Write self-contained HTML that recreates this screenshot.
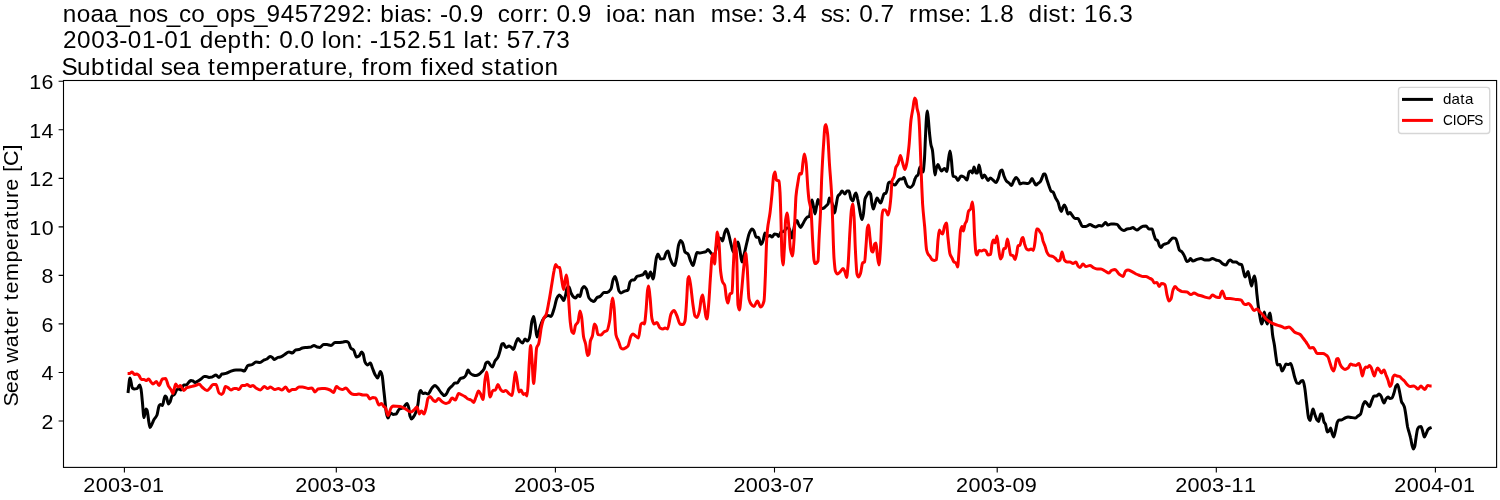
<!DOCTYPE html>
<html><head><meta charset="utf-8"><title>Subtidal sea temperature</title>
<style>
html,body{margin:0;padding:0;background:#fff;}
body{width:1500px;height:500px;overflow:hidden;font-family:"Liberation Sans",sans-serif;}
svg text{font-family:"Liberation Sans",sans-serif;white-space:pre;}
.tx{filter:grayscale(1);}
</style></head><body>
<svg width="1500" height="500" viewBox="0 0 1500 500" style="display:block;will-change:transform">
<rect x="0" y="0" width="1500" height="500" fill="#fff"/>
<g fill="none" stroke-width="3.0" stroke-linejoin="round" stroke-linecap="butt">
<path stroke="#000" d="M128.0 393.0C128.7 388.0 129.3 378.0 130.0 378.0C130.8 378.0 131.6 387.3 132.4 388.0C133.1 388.6 133.7 389.0 134.4 389.0C135.3 389.0 136.1 388.8 137.0 388.6C137.9 388.4 138.7 385.0 139.6 385.0C140.1 385.0 140.5 387.0 141.0 389.0C141.5 391.0 141.9 397.6 142.4 402.0C142.9 407.1 143.5 417.6 144.0 417.6C144.7 417.6 145.3 409.0 146.0 409.0C146.3 409.0 146.7 409.5 147.0 410.0C147.7 411.1 148.3 419.5 149.0 423.0C149.3 424.8 149.7 427.6 150.0 427.6C150.7 427.6 151.3 425.3 152.0 424.0C152.7 422.7 153.3 420.8 154.0 419.6C155.0 417.8 156.0 417.4 157.0 415.0C157.7 413.4 158.3 407.2 159.0 406.0C159.5 405.2 159.9 404.4 160.4 404.4C161.1 404.4 161.7 405.6 162.4 405.6C163.3 405.6 164.1 396.0 165.0 396.0C165.5 396.0 165.9 396.5 166.4 397.0C167.1 397.8 167.7 404.0 168.4 404.0C168.9 404.0 169.5 402.9 170.0 402.0C170.7 400.8 171.3 396.7 172.0 396.0C172.8 395.1 173.6 395.2 174.4 394.4C175.3 393.6 176.1 390.0 177.0 389.6C177.7 389.3 178.3 389.0 179.0 389.0C179.7 389.0 180.3 390.0 181.0 390.0C181.9 390.0 182.7 385.0 183.6 385.0C184.4 385.0 185.2 385.0 186.0 385.0C187.0 385.0 188.0 382.9 189.0 382.0C189.7 381.4 190.3 380.4 191.0 380.4C191.7 380.4 192.3 380.7 193.0 381.0C193.7 381.3 194.3 382.6 195.0 382.6C196.0 382.6 197.0 381.6 198.0 381.0C199.0 380.4 200.0 379.7 201.0 379.0C202.0 378.3 203.0 376.8 204.0 376.6C204.7 376.5 205.3 376.4 206.0 376.4C207.0 376.4 208.0 377.4 209.0 377.4C210.0 377.4 211.0 377.2 212.0 377.0C213.3 376.7 214.7 375.0 216.0 375.0C217.0 375.0 218.0 377.4 219.0 377.4C220.0 377.4 221.0 374.3 222.0 374.0C223.3 373.6 224.7 373.7 226.0 373.4C227.3 373.1 228.7 372.1 230.0 371.6C232.0 370.9 234.0 370.0 236.0 370.0C237.7 370.0 239.3 370.0 241.0 370.0C242.1 370.0 243.3 371.0 244.4 371.0C245.6 371.0 246.8 365.8 248.0 365.4C249.3 364.9 250.7 365.0 252.0 364.6C253.3 364.2 254.7 362.0 256.0 362.0C257.3 362.0 258.7 362.4 260.0 362.4C261.3 362.4 262.7 360.6 264.0 360.0C265.0 359.6 266.0 359.5 267.0 359.0C268.0 358.5 269.0 356.6 270.0 356.6C270.8 356.6 271.6 357.1 272.4 357.6C273.1 358.0 273.7 359.6 274.4 359.6C275.6 359.6 276.8 357.7 278.0 357.4C278.8 357.2 279.6 357.2 280.4 357.0C281.6 356.7 282.8 355.7 284.0 355.0C285.7 354.0 287.3 352.0 289.0 352.0C290.1 352.0 291.3 353.0 292.4 353.0C293.5 353.0 294.5 350.2 295.6 350.0C296.7 349.8 297.9 349.8 299.0 349.6C300.1 349.4 301.3 348.2 302.4 348.0C303.9 347.7 305.5 347.6 307.0 347.4C308.3 347.2 309.7 347.2 311.0 347.0C312.0 346.8 313.0 345.6 314.0 345.6C315.0 345.6 316.0 346.8 317.0 347.0C318.0 347.2 319.0 347.4 320.0 347.4C321.2 347.4 322.4 344.4 323.6 344.4C324.7 344.4 325.9 344.5 327.0 344.6C328.3 344.7 329.7 345.4 331.0 345.4C332.3 345.4 333.7 342.6 335.0 342.6C336.3 342.6 337.7 342.6 339.0 342.6C340.3 342.6 341.7 342.2 343.0 342.0C344.0 341.8 345.0 341.4 346.0 341.4C346.8 341.4 347.6 341.8 348.4 342.4C349.3 343.0 350.1 347.6 351.0 348.4C351.9 349.2 352.7 349.2 353.6 350.0C354.5 350.9 355.5 357.0 356.4 357.0C357.3 357.0 358.1 356.5 359.0 356.0C359.9 355.5 360.7 352.0 361.6 352.0C362.1 352.0 362.5 352.8 363.0 353.6C363.7 354.8 364.3 360.8 365.0 362.0C365.9 363.6 366.7 365.0 367.6 365.0C368.5 365.0 369.5 363.0 370.4 363.0C371.1 363.0 371.7 366.3 372.4 368.0C373.3 370.2 374.1 372.9 375.0 374.4C375.9 375.9 376.7 378.0 377.6 378.0C378.5 378.0 379.5 371.6 380.4 371.6C380.9 371.6 381.5 373.2 382.0 375.0C382.7 377.2 383.3 386.3 384.0 392.0C384.9 399.4 385.7 410.5 386.6 414.0C387.1 415.9 387.5 418.0 388.0 418.0C388.9 418.0 389.7 413.0 390.6 413.0C391.4 413.0 392.2 414.4 393.0 414.4C394.0 414.4 395.0 414.2 396.0 414.0C397.1 413.7 398.3 409.5 399.4 409.0C400.6 408.4 401.8 408.6 403.0 408.0C403.7 407.7 404.3 406.4 405.0 405.6C405.7 404.8 406.3 403.4 407.0 403.4C407.5 403.4 408.1 405.2 408.6 407.0C409.1 408.6 409.5 414.5 410.0 416.0C410.5 417.5 410.9 419.0 411.4 419.0C412.1 419.0 412.7 417.9 413.4 417.0C414.3 415.9 415.1 414.3 416.0 412.0C416.7 410.2 417.3 407.6 418.0 404.0C418.5 401.5 418.9 394.5 419.4 393.0C419.8 391.7 420.2 390.6 420.6 390.6C421.4 390.6 422.2 393.6 423.0 393.6C423.7 393.6 424.3 393.0 425.0 393.0C426.0 393.0 427.0 394.0 428.0 394.0C429.3 394.0 430.7 389.4 432.0 388.0C433.0 386.9 434.0 385.4 435.0 385.4C435.8 385.4 436.6 386.7 437.4 387.6C438.6 388.9 439.8 391.1 441.0 392.4C442.1 393.6 443.3 395.6 444.4 395.6C444.9 395.6 445.5 394.9 446.0 394.4C447.0 393.4 448.0 390.3 449.0 389.0C450.0 387.7 451.0 387.0 452.0 386.0C453.0 385.0 454.0 383.0 455.0 383.0C455.7 383.0 456.3 383.0 457.0 383.0C458.2 383.0 459.4 379.0 460.6 378.4C461.7 377.9 462.9 378.0 464.0 377.4C464.7 377.1 465.3 376.1 466.0 375.0C466.7 373.9 467.3 370.0 468.0 370.0C468.7 370.0 469.3 372.4 470.0 373.0C471.0 373.9 472.0 374.7 473.0 375.0C474.0 375.3 475.0 375.6 476.0 375.6C477.0 375.6 478.0 375.0 479.0 374.4C480.0 373.8 481.0 372.7 482.0 371.6C482.7 370.9 483.3 370.2 484.0 369.0C484.7 367.8 485.3 363.6 486.0 363.0C486.7 362.4 487.3 362.0 488.0 362.0C488.8 362.0 489.6 364.1 490.4 365.0C491.1 365.7 491.7 367.0 492.4 367.0C493.3 367.0 494.1 362.5 495.0 361.0C496.0 359.3 497.0 358.9 498.0 357.0C498.7 355.7 499.3 353.2 500.0 351.0C500.7 348.8 501.3 344.3 502.0 344.0C502.5 343.8 502.9 343.6 503.4 343.6C504.3 343.6 505.1 347.6 506.0 347.6C507.0 347.6 508.0 346.0 509.0 346.0C509.7 346.0 510.3 346.6 511.0 347.0C511.8 347.5 512.6 349.4 513.4 349.4C514.3 349.4 515.1 344.4 516.0 342.4C516.7 340.9 517.3 338.4 518.0 338.4C518.7 338.4 519.3 340.3 520.0 341.0C520.9 341.8 521.7 343.0 522.6 343.0C523.4 343.0 524.2 339.0 525.0 339.0C525.8 339.0 526.6 341.0 527.4 341.0C528.1 341.0 528.7 339.7 529.4 338.0C529.6 337.5 529.8 336.1 530.0 335.0C530.7 331.2 531.3 323.7 532.0 321.0C532.5 318.9 533.1 316.4 533.6 316.4C534.1 316.4 534.5 320.4 535.0 323.0C535.7 326.7 536.3 337.0 537.0 337.0C537.7 337.0 538.3 333.2 539.0 331.0C539.7 328.8 540.3 325.7 541.0 324.0C542.0 321.4 543.0 319.0 544.0 318.0C545.3 316.7 546.7 315.4 548.0 315.4C549.0 315.4 550.0 316.4 551.0 316.4C552.0 316.4 553.0 311.9 554.0 309.0C555.0 306.1 556.0 299.8 557.0 298.0C557.8 296.5 558.6 295.0 559.4 295.0C560.3 295.0 561.1 296.8 562.0 298.0C562.5 298.7 563.1 300.6 563.6 300.6C564.3 300.6 564.9 297.4 565.6 295.0C566.1 293.3 566.5 288.4 567.0 288.0C567.7 287.4 568.3 287.0 569.0 287.0C569.7 287.0 570.3 291.6 571.0 293.0C571.9 294.8 572.7 296.4 573.6 297.0C574.3 297.5 574.9 298.0 575.6 298.0C576.4 298.0 577.2 295.0 578.0 295.0C578.7 295.0 579.3 296.4 580.0 296.4C580.7 296.4 581.3 290.3 582.0 289.0C582.7 287.7 583.3 286.4 584.0 286.4C584.8 286.4 585.6 287.7 586.4 289.0C587.3 290.4 588.1 296.7 589.0 298.0C589.9 299.3 590.7 300.1 591.6 300.6C592.4 301.1 593.2 301.6 594.0 301.6C595.0 301.6 596.0 298.2 597.0 297.6C598.0 297.0 599.0 297.0 600.0 296.4C601.3 295.7 602.7 292.8 604.0 292.6C605.0 292.5 606.0 292.5 607.0 292.4C608.3 292.2 609.7 291.1 611.0 289.0C611.7 288.0 612.3 281.6 613.0 280.0C613.7 278.4 614.3 276.6 615.0 276.6C615.7 276.6 616.3 279.8 617.0 282.0C617.7 284.2 618.3 289.9 619.0 291.0C619.7 292.1 620.3 293.0 621.0 293.0C622.0 293.0 623.0 291.8 624.0 291.4C625.3 290.8 626.7 290.9 628.0 290.0C628.7 289.5 629.3 283.1 630.0 282.0C630.7 280.9 631.3 280.0 632.0 280.0C632.7 280.0 633.3 280.0 634.0 280.0C635.0 280.0 636.0 276.8 637.0 276.4C638.0 276.0 639.0 275.9 640.0 275.6C641.0 275.3 642.0 275.1 643.0 274.6C643.9 274.1 644.7 271.6 645.6 271.6C646.4 271.6 647.2 278.0 648.0 278.0C648.9 278.0 649.7 272.0 650.6 272.0C651.4 272.0 652.2 279.0 653.0 279.0C654.2 279.0 655.4 260.6 656.6 257.0C657.1 255.6 657.5 254.0 658.0 254.0C658.9 254.0 659.7 259.0 660.6 259.0C661.7 259.0 662.9 258.9 664.0 258.6C664.7 258.4 665.3 254.0 666.0 253.0C666.7 252.0 667.3 251.0 668.0 251.0C668.7 251.0 669.3 256.1 670.0 258.0C670.9 260.4 671.7 263.0 672.6 264.0C673.3 264.8 673.9 265.6 674.6 265.6C675.3 265.6 675.9 261.2 676.6 258.0C677.3 254.8 677.9 247.2 678.6 245.0C679.3 242.8 679.9 240.6 680.6 240.6C681.3 240.6 681.9 241.8 682.6 243.0C683.4 244.4 684.2 251.1 685.0 252.0C686.0 253.2 687.0 252.9 688.0 254.0C688.9 254.9 689.7 259.1 690.6 261.0C691.4 262.8 692.2 265.6 693.0 265.6C693.7 265.6 694.3 261.2 695.0 259.0C695.7 256.8 696.3 252.6 697.0 252.6C698.0 252.6 699.0 253.0 700.0 253.0C701.0 253.0 702.0 252.6 703.0 252.4C704.0 252.2 705.0 252.0 706.0 251.6C706.7 251.3 707.3 249.4 708.0 249.4C708.9 249.4 709.7 251.6 710.6 252.6C711.4 253.5 712.2 255.0 713.0 255.0C713.7 255.0 714.3 254.1 715.0 253.0C715.7 251.9 716.3 246.4 717.0 244.0C717.7 241.6 718.3 238.0 719.0 238.0C719.7 238.0 720.3 238.3 721.0 238.6C721.5 238.9 722.1 241.0 722.6 241.0C723.3 241.0 723.9 234.8 724.6 233.0C725.3 231.2 725.9 229.0 726.6 229.0C727.3 229.0 727.9 231.9 728.6 234.0C729.4 236.5 730.2 241.0 731.0 244.0C731.8 247.0 732.6 252.0 733.4 252.0C734.3 252.0 735.1 248.9 736.0 247.0C736.7 245.5 737.3 242.0 738.0 242.0C738.7 242.0 739.3 247.7 740.0 251.0C740.7 254.3 741.3 262.0 742.0 262.0C742.7 262.0 743.3 257.6 744.0 255.0C745.0 251.2 746.0 246.0 747.0 242.0C747.8 238.8 748.6 234.8 749.4 233.0C750.3 231.1 751.1 229.0 752.0 229.0C752.7 229.0 753.3 230.0 754.0 231.0C754.7 232.0 755.3 236.8 756.0 237.0C756.9 237.3 757.7 237.1 758.6 237.4C759.4 237.6 760.2 244.4 761.0 244.4C761.7 244.4 762.3 242.6 763.0 241.0C763.7 239.4 764.3 233.0 765.0 233.0C765.7 233.0 766.3 236.4 767.0 236.4C768.0 236.4 769.0 235.6 770.0 235.6C770.7 235.6 771.3 237.0 772.0 237.0C772.9 237.0 773.7 234.0 774.6 234.0C775.4 234.0 776.2 234.2 777.0 234.4C777.5 234.6 778.1 236.4 778.6 236.4C779.4 236.4 780.2 232.3 781.0 232.0C782.0 231.6 783.0 231.8 784.0 231.4C784.9 231.1 785.7 228.0 786.6 228.0C787.4 228.0 788.2 228.0 789.0 228.0C789.5 228.0 790.1 231.2 790.6 233.0C791.1 234.6 791.5 238.0 792.0 238.0C792.5 238.0 793.1 232.5 793.6 230.0C794.2 227.2 794.8 223.0 795.4 222.0C795.9 221.1 796.5 220.4 797.0 220.4C797.5 220.4 798.1 223.4 798.6 224.4C799.3 225.7 799.9 227.4 800.6 227.4C801.3 227.4 801.9 225.5 802.6 224.4C803.4 223.1 804.2 221.2 805.0 220.0C805.8 218.8 806.6 217.4 807.4 217.0C808.1 216.7 808.7 216.8 809.4 216.4C809.9 216.1 810.5 208.1 811.0 205.0C811.3 203.1 811.7 200.0 812.0 200.0C812.5 200.0 812.9 203.8 813.4 206.0C813.9 208.5 814.5 214.0 815.0 214.0C815.5 214.0 816.1 208.5 816.6 206.0C817.1 203.8 817.5 199.6 818.0 199.6C818.5 199.6 818.9 200.9 819.4 202.0C819.9 203.2 820.5 207.8 821.0 208.0C821.7 208.3 822.3 208.4 823.0 208.4C824.0 208.4 825.0 206.9 826.0 206.0C826.7 205.4 827.3 205.1 828.0 204.0C828.5 203.2 828.9 198.0 829.4 198.0C830.6 198.0 831.8 202.3 833.0 206.0C833.5 207.6 834.1 213.0 834.6 213.0C835.1 213.0 835.5 208.3 836.0 206.0C836.7 202.7 837.3 197.1 838.0 196.0C838.7 194.9 839.3 194.8 840.0 194.0C840.7 193.2 841.3 191.0 842.0 191.0C843.0 191.0 844.0 194.0 845.0 194.0C845.7 194.0 846.3 191.0 847.0 191.0C847.7 191.0 848.3 191.0 849.0 191.0C849.7 191.0 850.3 197.9 851.0 199.0C851.7 200.1 852.3 201.0 853.0 201.0C853.5 201.0 854.1 196.1 854.6 195.0C855.1 194.0 855.5 193.0 856.0 193.0C856.5 193.0 857.1 196.7 857.6 199.0C858.1 201.0 858.5 203.5 859.0 206.0C859.5 208.8 860.1 212.8 860.6 215.0C861.1 216.9 861.5 219.6 862.0 219.6C862.5 219.6 862.9 216.6 863.4 214.0C863.9 211.0 864.5 200.8 865.0 199.0C865.7 196.7 866.3 196.1 867.0 195.0C867.7 193.9 868.3 192.0 869.0 192.0C869.5 192.0 870.1 192.8 870.6 194.0C871.1 195.0 871.5 201.8 872.0 204.0C872.5 206.2 872.9 209.0 873.4 209.0C873.9 209.0 874.5 205.6 875.0 204.0C875.7 202.0 876.3 198.0 877.0 198.0C877.7 198.0 878.3 200.1 879.0 201.0C879.5 201.7 880.1 203.0 880.6 203.0C881.3 203.0 881.9 199.8 882.6 198.0C883.1 196.8 883.5 194.4 884.0 194.0C884.7 193.4 885.3 193.6 886.0 193.0C886.3 192.7 886.7 191.2 887.0 190.0C887.5 188.3 887.9 183.5 888.4 183.0C888.9 182.4 889.5 182.0 890.0 182.0C890.8 182.0 891.6 183.6 892.4 184.0C893.3 184.5 894.1 185.0 895.0 185.0C896.0 185.0 897.0 182.1 898.0 181.0C898.7 180.2 899.3 179.0 900.0 179.0C900.7 179.0 901.3 179.0 902.0 179.0C902.7 179.0 903.3 177.4 904.0 177.4C904.7 177.4 905.3 181.5 906.0 183.0C906.7 184.5 907.3 186.2 908.0 186.6C908.8 187.1 909.6 187.4 910.4 187.4C911.3 187.4 912.1 186.3 913.0 185.0C913.7 184.0 914.3 180.5 915.0 179.0C915.5 177.8 916.1 176.5 916.6 176.0C917.1 175.5 917.5 175.5 918.0 175.0C918.7 174.2 919.3 167.0 920.0 167.0C920.5 167.0 921.1 169.1 921.6 170.0C922.1 170.8 922.5 172.0 923.0 172.0C923.5 172.0 923.9 165.8 924.4 160.0C924.8 155.0 925.2 141.8 925.6 134.0C925.9 127.5 926.3 119.0 926.6 116.0C926.9 113.6 927.1 111.0 927.4 111.0C927.7 111.0 928.1 116.6 928.4 120.0C928.8 124.0 929.2 130.2 929.6 134.0C930.1 138.4 930.5 142.7 931.0 145.0C931.5 147.3 931.9 147.5 932.4 150.0C932.8 152.1 933.2 158.1 933.6 162.0C934.1 166.5 934.5 175.0 935.0 175.0C935.5 175.0 935.9 169.5 936.4 168.0C936.9 166.3 937.5 164.4 938.0 164.4C938.5 164.4 939.1 167.0 939.6 168.0C940.3 169.2 940.9 171.0 941.6 171.0C942.5 171.0 943.5 168.4 944.4 168.4C945.3 168.4 946.1 171.6 947.0 171.6C947.5 171.6 947.9 163.1 948.4 160.0C948.9 156.4 949.5 151.0 950.0 151.0C950.5 151.0 950.9 156.4 951.4 160.0C951.9 164.2 952.5 175.6 953.0 176.0C953.9 176.7 954.7 176.5 955.6 177.0C956.4 177.5 957.2 180.4 958.0 180.4C959.0 180.4 960.0 176.0 961.0 176.0C962.0 176.0 963.0 176.5 964.0 177.0C965.0 177.5 966.0 180.0 967.0 180.0C967.7 180.0 968.3 172.6 969.0 172.0C969.7 171.4 970.3 171.0 971.0 171.0C971.5 171.0 971.9 173.0 972.4 173.0C972.9 173.0 973.5 167.0 974.0 167.0C974.7 167.0 975.3 173.0 976.0 173.0C976.5 173.0 976.9 173.0 977.4 173.0C977.9 173.0 978.5 165.0 979.0 165.0C979.7 165.0 980.3 171.7 981.0 174.0C981.5 175.6 981.9 178.0 982.4 178.0C983.1 178.0 983.7 175.0 984.4 175.0C985.1 175.0 985.7 177.0 986.4 178.0C986.9 178.8 987.5 180.4 988.0 180.4C988.8 180.4 989.6 178.0 990.4 178.0C991.3 178.0 992.1 179.3 993.0 180.0C994.0 180.8 995.0 182.4 996.0 182.4C996.8 182.4 997.6 179.9 998.4 178.0C999.1 176.4 999.7 171.7 1000.4 171.0C1000.9 170.4 1001.5 170.0 1002.0 170.0C1002.7 170.0 1003.3 174.4 1004.0 176.0C1004.8 178.0 1005.6 180.1 1006.4 181.0C1007.3 182.0 1008.1 182.2 1009.0 183.0C1009.9 183.8 1010.7 185.6 1011.6 185.6C1012.3 185.6 1012.9 182.2 1013.6 181.0C1014.4 179.6 1015.2 177.6 1016.0 177.6C1016.8 177.6 1017.6 178.8 1018.4 180.0C1018.9 180.8 1019.5 184.0 1020.0 184.0C1021.0 184.0 1022.0 183.0 1023.0 183.0C1024.7 183.0 1026.3 183.4 1028.0 183.4C1028.7 183.4 1029.3 182.7 1030.0 182.0C1030.7 181.3 1031.3 178.6 1032.0 178.6C1032.7 178.6 1033.3 180.9 1034.0 182.0C1034.7 183.1 1035.3 185.0 1036.0 185.0C1036.7 185.0 1037.3 183.9 1038.0 183.4C1038.7 182.9 1039.3 182.7 1040.0 182.0C1040.7 181.3 1041.3 179.5 1042.0 178.0C1042.5 176.8 1043.1 174.0 1043.6 174.0C1044.1 174.0 1044.5 174.0 1045.0 174.0C1045.7 174.0 1046.3 178.0 1047.0 180.0C1047.7 182.0 1048.3 184.2 1049.0 186.0C1049.7 187.8 1050.3 190.4 1051.0 191.0C1051.7 191.6 1052.3 191.5 1053.0 192.0C1053.9 192.7 1054.7 196.3 1055.6 198.0C1056.4 199.5 1057.2 200.2 1058.0 202.0C1058.7 203.5 1059.3 207.5 1060.0 209.0C1060.5 210.1 1060.9 211.4 1061.4 211.4C1061.9 211.4 1062.5 208.0 1063.0 207.0C1063.5 206.1 1063.9 205.0 1064.4 205.0C1064.9 205.0 1065.5 206.8 1066.0 208.0C1066.7 209.5 1067.3 214.0 1068.0 214.0C1068.7 214.0 1069.3 212.6 1070.0 212.6C1070.7 212.6 1071.3 214.2 1072.0 215.0C1073.0 216.2 1074.0 218.6 1075.0 218.6C1076.0 218.6 1077.0 218.6 1078.0 218.6C1078.7 218.6 1079.3 220.8 1080.0 222.0C1080.8 223.4 1081.6 226.4 1082.4 226.4C1083.6 226.4 1084.8 226.4 1086.0 226.4C1087.3 226.4 1088.7 224.6 1090.0 224.6C1091.0 224.6 1092.0 225.6 1093.0 226.0C1093.9 226.4 1094.7 227.0 1095.6 227.0C1096.7 227.0 1097.9 225.4 1099.0 225.4C1100.0 225.4 1101.0 226.0 1102.0 226.0C1102.7 226.0 1103.3 224.6 1104.0 224.0C1104.5 223.5 1105.1 222.6 1105.6 222.6C1106.4 222.6 1107.2 225.0 1108.0 225.0C1109.0 225.0 1110.0 224.0 1111.0 224.0C1112.0 224.0 1113.0 224.0 1114.0 224.0C1115.0 224.0 1116.0 224.2 1117.0 224.4C1118.0 224.6 1119.0 227.0 1120.0 228.0C1120.8 228.8 1121.6 229.6 1122.4 230.0C1122.9 230.3 1123.5 230.6 1124.0 230.6C1125.0 230.6 1126.0 229.2 1127.0 229.0C1128.0 228.8 1129.0 228.8 1130.0 228.6C1131.0 228.4 1132.0 227.6 1133.0 227.6C1133.7 227.6 1134.3 228.6 1135.0 229.0C1135.7 229.4 1136.3 230.0 1137.0 230.0C1138.0 230.0 1139.0 228.6 1140.0 228.0C1141.0 227.4 1142.0 226.3 1143.0 226.2C1144.0 226.1 1145.0 226.0 1146.0 226.0C1147.0 226.0 1148.0 229.0 1149.0 229.0C1150.0 229.0 1151.0 229.0 1152.0 229.0C1152.7 229.0 1153.3 233.1 1154.0 235.0C1154.5 236.5 1155.1 238.9 1155.6 239.4C1156.3 240.1 1156.9 239.9 1157.6 240.6C1158.3 241.3 1158.9 245.1 1159.6 246.0C1160.1 246.7 1160.5 247.4 1161.0 247.4C1161.7 247.4 1162.3 245.5 1163.0 245.0C1163.7 244.5 1164.3 244.3 1165.0 244.0C1166.0 243.6 1167.0 243.5 1168.0 243.0C1168.7 242.6 1169.3 241.3 1170.0 240.6C1171.0 239.6 1172.0 238.0 1173.0 238.0C1173.9 238.0 1174.7 238.1 1175.6 238.4C1176.3 238.6 1176.9 242.0 1177.6 244.0C1178.2 245.8 1178.8 249.2 1179.4 250.0C1180.3 251.1 1181.1 251.1 1182.0 252.0C1182.8 252.8 1183.6 254.5 1184.4 256.0C1185.3 257.6 1186.1 261.4 1187.0 261.4C1187.7 261.4 1188.3 261.0 1189.0 260.6C1189.5 260.3 1189.9 258.6 1190.4 258.6C1191.3 258.6 1192.1 261.0 1193.0 261.0C1194.3 261.0 1195.7 259.8 1197.0 259.4C1198.3 259.0 1199.7 258.4 1201.0 258.4C1202.3 258.4 1203.7 260.0 1205.0 260.0C1206.3 260.0 1207.7 260.0 1209.0 260.0C1210.1 260.0 1211.3 258.4 1212.4 258.4C1213.6 258.4 1214.8 259.6 1216.0 260.0C1217.2 260.4 1218.4 260.5 1219.6 261.0C1220.5 261.4 1221.5 263.1 1222.4 263.6C1223.6 264.3 1224.8 265.0 1226.0 265.0C1226.9 265.0 1227.7 261.7 1228.6 261.0C1229.2 260.5 1229.8 260.0 1230.4 260.0C1231.3 260.0 1232.1 262.0 1233.0 262.0C1234.0 262.0 1235.0 262.0 1236.0 262.0C1237.0 262.0 1238.0 263.7 1239.0 264.0C1239.9 264.3 1240.7 264.2 1241.6 264.6C1242.2 264.9 1242.8 268.8 1243.4 271.0C1243.9 272.9 1244.5 277.0 1245.0 277.0C1245.5 277.0 1245.9 275.8 1246.4 275.0C1246.9 274.1 1247.5 271.6 1248.0 271.6C1248.5 271.6 1249.1 275.9 1249.6 278.0C1250.3 280.7 1250.9 286.0 1251.6 286.0C1252.1 286.0 1252.5 281.6 1253.0 280.0C1253.5 278.4 1253.9 276.0 1254.4 276.0C1254.8 276.0 1255.2 278.7 1255.6 281.0C1256.1 283.7 1256.5 290.7 1257.0 295.0C1257.5 299.3 1257.9 303.6 1258.4 307.0C1258.9 310.9 1259.5 314.3 1260.0 317.0C1260.5 319.7 1261.1 324.0 1261.6 324.0C1262.1 324.0 1262.5 321.8 1263.0 320.0C1263.5 318.2 1263.9 312.0 1264.4 312.0C1264.9 312.0 1265.5 319.4 1266.0 321.0C1266.5 322.4 1266.9 324.0 1267.4 324.0C1267.9 324.0 1268.5 316.5 1269.0 315.0C1269.3 314.1 1269.7 313.0 1270.0 313.0C1270.5 313.0 1270.9 319.1 1271.4 323.0C1271.8 326.3 1272.2 332.1 1272.6 335.0C1273.2 339.4 1273.8 341.2 1274.4 345.0C1274.9 348.4 1275.5 353.6 1276.0 357.0C1276.5 360.0 1276.9 365.0 1277.4 365.0C1278.3 365.0 1279.1 364.4 1280.0 364.4C1280.7 364.4 1281.3 371.0 1282.0 371.0C1282.7 371.0 1283.3 369.1 1284.0 368.0C1284.7 366.9 1285.3 364.0 1286.0 364.0C1286.9 364.0 1287.7 364.6 1288.6 364.6C1289.3 364.6 1289.9 363.4 1290.6 363.4C1291.3 363.4 1291.9 366.8 1292.6 369.0C1293.3 371.2 1293.9 374.9 1294.6 377.0C1295.4 379.5 1296.2 382.7 1297.0 383.0C1297.7 383.2 1298.3 383.4 1299.0 383.4C1299.8 383.4 1300.6 381.3 1301.4 381.0C1301.9 380.8 1302.5 380.6 1303.0 380.6C1303.5 380.6 1304.1 384.2 1304.6 387.0C1305.3 390.5 1305.9 397.8 1306.6 403.0C1307.3 408.2 1307.9 416.1 1308.6 418.0C1309.1 419.3 1309.5 420.6 1310.0 420.6C1310.5 420.6 1311.1 416.0 1311.6 414.0C1312.1 412.2 1312.5 409.0 1313.0 409.0C1313.7 409.0 1314.3 413.2 1315.0 415.0C1315.7 416.8 1316.3 419.2 1317.0 420.0C1317.5 420.7 1318.1 421.4 1318.6 421.4C1319.3 421.4 1319.9 414.0 1320.6 414.0C1321.1 414.0 1321.5 414.0 1322.0 414.0C1322.7 414.0 1323.3 420.6 1324.0 422.0C1324.5 423.0 1324.9 423.0 1325.4 424.0C1326.1 425.4 1326.7 432.0 1327.4 432.0C1327.9 432.0 1328.5 431.5 1329.0 431.0C1329.5 430.5 1330.1 428.0 1330.6 428.0C1331.1 428.0 1331.5 431.6 1332.0 433.0C1332.5 434.6 1333.1 437.0 1333.6 437.0C1334.2 437.0 1334.8 433.3 1335.4 431.0C1336.1 428.5 1336.7 423.3 1337.4 422.0C1337.9 421.0 1338.5 420.0 1339.0 420.0C1339.8 420.0 1340.6 420.0 1341.4 420.0C1342.6 420.0 1343.8 418.5 1345.0 418.0C1346.0 417.6 1347.0 417.0 1348.0 417.0C1349.0 417.0 1350.0 417.3 1351.0 417.4C1352.3 417.6 1353.7 418.0 1355.0 418.0C1356.0 418.0 1357.0 416.7 1358.0 416.0C1358.9 415.4 1359.7 415.1 1360.6 414.0C1361.4 413.0 1362.2 406.9 1363.0 405.0C1363.7 403.5 1364.3 401.6 1365.0 401.6C1365.7 401.6 1366.3 402.7 1367.0 403.4C1367.8 404.3 1368.6 406.6 1369.4 406.6C1370.3 406.6 1371.1 401.9 1372.0 400.0C1372.7 398.5 1373.3 396.0 1374.0 396.0C1374.9 396.0 1375.7 396.0 1376.6 396.0C1377.4 396.0 1378.2 394.0 1379.0 394.0C1379.7 394.0 1380.3 395.1 1381.0 396.0C1382.0 397.4 1383.0 403.0 1384.0 403.0C1384.7 403.0 1385.3 399.9 1386.0 399.0C1386.7 398.1 1387.3 397.0 1388.0 397.0C1388.7 397.0 1389.3 398.6 1390.0 398.6C1390.7 398.6 1391.3 398.4 1392.0 398.0C1392.7 397.6 1393.3 394.9 1394.0 393.0C1394.7 391.1 1395.3 386.9 1396.0 386.0C1396.5 385.3 1397.1 384.6 1397.6 384.6C1398.4 384.6 1399.2 390.5 1400.0 394.0C1400.5 396.4 1401.1 400.8 1401.6 402.0C1402.1 403.0 1402.5 403.2 1403.0 404.0C1403.5 404.8 1403.9 405.6 1404.4 407.0C1404.9 408.6 1405.5 412.7 1406.0 416.0C1406.5 419.3 1407.1 424.5 1407.6 427.0C1408.1 429.2 1408.5 430.3 1409.0 432.0C1409.5 434.0 1410.1 435.7 1410.6 438.0C1411.1 440.0 1411.5 443.3 1412.0 445.0C1412.5 446.7 1412.9 449.0 1413.4 449.0C1413.8 449.0 1414.2 448.0 1414.6 447.0C1415.1 445.8 1415.5 440.8 1416.0 438.0C1416.5 434.8 1417.1 430.2 1417.6 429.0C1418.1 428.0 1418.5 427.2 1419.0 427.0C1419.7 426.8 1420.3 426.6 1421.0 426.6C1421.5 426.6 1422.1 429.4 1422.6 431.0C1423.2 432.8 1423.8 437.0 1424.4 437.0C1424.9 437.0 1425.5 435.1 1426.0 434.0C1426.7 432.7 1427.3 430.4 1428.0 429.6C1428.7 428.8 1429.3 428.3 1430.0 428.0C1430.5 427.7 1431.1 427.6 1431.6 427.4"/>
<path stroke="#f00" d="M127.6 373.6C128.3 373.6 128.9 373.6 129.6 373.6C130.4 373.6 131.2 372.0 132.0 372.0C132.8 372.0 133.6 374.4 134.4 374.4C135.3 374.4 136.1 374.0 137.0 374.0C137.7 374.0 138.3 374.9 139.0 375.6C139.8 376.5 140.6 379.6 141.4 379.6C142.3 379.6 143.1 379.4 144.0 379.4C144.7 379.4 145.3 380.6 146.0 380.6C146.9 380.6 147.7 379.0 148.6 379.0C149.4 379.0 150.2 381.1 151.0 382.0C151.7 382.7 152.3 384.0 153.0 384.0C154.1 384.0 155.3 381.4 156.4 381.4C157.3 381.4 158.1 385.6 159.0 385.6C160.1 385.6 161.3 379.4 162.4 379.0C163.5 378.6 164.5 378.4 165.6 378.4C166.5 378.4 167.5 384.3 168.4 386.0C169.3 387.6 170.1 388.2 171.0 389.6C171.7 390.7 172.3 393.6 173.0 393.6C173.9 393.6 174.7 384.0 175.6 384.0C176.4 384.0 177.2 387.0 178.0 387.0C178.8 387.0 179.6 385.6 180.4 385.6C181.5 385.6 182.5 390.4 183.6 390.4C184.7 390.4 185.9 388.0 187.0 387.6C188.7 387.0 190.3 386.8 192.0 386.4C193.3 386.1 194.7 385.8 196.0 385.4C197.0 385.1 198.0 384.0 199.0 384.0C200.0 384.0 201.0 386.2 202.0 387.0C203.7 388.4 205.3 390.4 207.0 390.4C208.0 390.4 209.0 389.0 210.0 388.0C211.0 387.0 212.0 384.4 213.0 384.4C214.0 384.4 215.0 384.4 216.0 384.4C217.0 384.4 218.0 392.1 219.0 393.0C219.9 393.8 220.7 394.4 221.6 394.4C222.2 394.4 222.8 393.4 223.4 392.4C224.1 391.3 224.7 386.4 225.4 386.4C226.3 386.4 227.1 387.1 228.0 387.6C229.0 388.2 230.0 390.0 231.0 390.0C232.0 390.0 233.0 388.7 234.0 388.6C234.8 388.5 235.6 388.4 236.4 388.4C237.3 388.4 238.1 389.6 239.0 389.6C240.0 389.6 241.0 385.6 242.0 385.6C243.0 385.6 244.0 385.6 245.0 385.6C245.7 385.6 246.3 384.4 247.0 384.4C248.0 384.4 249.0 386.4 250.0 386.4C251.0 386.4 252.0 385.6 253.0 385.6C254.0 385.6 255.0 387.4 256.0 388.0C257.5 388.9 258.9 390.0 260.4 390.0C261.7 390.0 263.1 386.4 264.4 386.4C265.5 386.4 266.5 388.6 267.6 388.6C268.5 388.6 269.5 387.0 270.4 387.0C271.9 387.0 273.5 389.6 275.0 389.6C276.1 389.6 277.3 388.4 278.4 388.4C279.6 388.4 280.8 390.0 282.0 390.0C283.2 390.0 284.4 387.0 285.6 387.0C286.7 387.0 287.9 391.4 289.0 391.4C290.1 391.4 291.3 389.4 292.4 389.4C293.3 389.4 294.1 389.6 295.0 389.6C296.3 389.6 297.7 387.0 299.0 387.0C300.1 387.0 301.3 387.0 302.4 387.0C304.3 387.0 306.1 388.4 308.0 388.4C309.3 388.4 310.7 388.0 312.0 388.0C313.0 388.0 314.0 392.0 315.0 392.0C316.0 392.0 317.0 389.3 318.0 389.0C319.3 388.6 320.7 388.4 322.0 388.4C323.0 388.4 324.0 388.5 325.0 388.6C326.7 388.8 328.3 389.3 330.0 390.0C331.2 390.5 332.4 392.4 333.6 392.4C334.5 392.4 335.5 386.6 336.4 386.6C337.4 386.6 338.4 388.2 339.4 388.6C340.4 389.0 341.4 389.6 342.4 389.6C343.6 389.6 344.8 388.0 346.0 388.0C347.0 388.0 348.0 390.4 349.0 391.4C350.0 392.4 351.0 393.7 352.0 394.0C353.3 394.4 354.7 394.6 356.0 394.6C357.0 394.6 358.0 394.0 359.0 394.0C360.3 394.0 361.7 395.0 363.0 395.0C364.3 395.0 365.7 395.0 367.0 395.0C368.0 395.0 369.0 399.0 370.0 399.0C371.0 399.0 372.0 397.4 373.0 397.4C373.9 397.4 374.7 397.7 375.6 398.0C376.7 398.5 377.9 405.0 379.0 405.0C379.9 405.0 380.7 403.4 381.6 403.4C382.5 403.4 383.5 407.0 384.4 407.0C384.6 407.0 384.8 407.0 385.0 407.0C386.0 407.0 387.0 415.6 388.0 415.6C389.0 415.6 390.0 409.4 391.0 408.0C391.7 407.1 392.3 406.0 393.0 406.0C395.3 406.0 397.7 406.2 400.0 406.4C401.7 406.6 403.3 407.8 405.0 408.6C407.0 409.6 409.0 412.0 411.0 412.0C412.0 412.0 413.0 410.8 414.0 410.0C415.0 409.2 416.0 407.0 417.0 407.0C417.8 407.0 418.6 414.0 419.4 414.0C420.1 414.0 420.7 411.0 421.4 411.0C422.3 411.0 423.1 414.0 424.0 414.0C424.7 414.0 425.3 410.5 426.0 408.0C426.7 405.5 427.3 399.5 428.0 398.4C428.7 397.3 429.3 396.4 430.0 396.4C431.0 396.4 432.0 399.2 433.0 400.0C433.8 400.7 434.6 401.6 435.4 401.6C436.5 401.6 437.5 398.6 438.6 398.6C439.7 398.6 440.9 400.9 442.0 401.6C443.3 402.4 444.7 403.4 446.0 403.4C447.0 403.4 448.0 402.9 449.0 402.4C450.0 401.9 451.0 398.0 452.0 398.0C453.1 398.0 454.3 400.0 455.4 400.0C456.5 400.0 457.5 393.6 458.6 393.6C459.7 393.6 460.9 394.5 462.0 395.0C463.0 395.5 464.0 396.0 465.0 396.6C466.0 397.2 467.0 398.5 468.0 399.0C469.0 399.5 470.0 399.5 471.0 400.0C471.9 400.4 472.7 402.4 473.6 402.4C474.4 402.4 475.2 398.8 476.0 397.0C476.9 395.0 477.7 391.0 478.6 391.0C479.3 391.0 479.9 392.8 480.6 394.0C481.4 395.5 482.2 399.6 483.0 399.6C483.7 399.6 484.3 384.4 485.0 380.0C485.5 376.5 486.1 372.0 486.6 372.0C487.1 372.0 487.5 376.8 488.0 380.0C488.7 384.5 489.3 397.0 490.0 397.0C491.0 397.0 492.0 390.7 493.0 390.4C493.8 390.2 494.6 390.2 495.4 390.0C496.3 389.7 497.1 384.6 498.0 384.6C498.9 384.6 499.7 388.6 500.6 389.6C501.4 390.5 502.2 391.6 503.0 391.6C503.9 391.6 504.7 390.6 505.6 390.6C506.7 390.6 507.9 392.7 509.0 393.6C510.0 394.4 511.0 395.6 512.0 395.6C512.7 395.6 513.3 386.7 514.0 382.0C514.5 378.7 514.9 372.0 515.4 372.0C515.9 372.0 516.5 377.1 517.0 380.0C517.7 383.6 518.3 392.0 519.0 392.0C519.7 392.0 520.3 390.0 521.0 390.0C521.8 390.0 522.6 394.4 523.4 394.4C524.1 394.4 524.7 393.6 525.4 393.6C525.9 393.6 526.5 396.0 527.0 396.0C527.3 396.0 527.7 390.3 528.0 386.0C528.5 380.0 528.9 366.8 529.4 360.0C529.8 354.2 530.2 345.6 530.6 345.6C531.1 345.6 531.5 354.4 532.0 360.0C532.5 366.4 533.1 383.6 533.6 383.6C534.1 383.6 534.5 375.3 535.0 370.0C535.5 364.0 536.1 349.9 536.6 348.0C537.3 345.6 537.9 346.0 538.6 344.0C539.3 342.0 539.9 336.6 540.6 332.0C540.7 331.1 540.9 329.7 541.0 329.0C542.0 323.6 543.0 320.1 544.0 318.0C544.7 316.6 545.3 316.5 546.0 315.0C547.0 312.8 548.0 306.2 549.0 301.0C550.0 295.8 551.0 289.0 552.0 283.0C552.7 279.0 553.3 274.2 554.0 271.0C554.5 268.4 555.1 264.4 555.6 264.4C556.3 264.4 556.9 266.8 557.6 267.0C558.3 267.2 558.9 267.1 559.6 267.4C560.3 267.7 560.9 275.3 561.6 279.0C562.3 282.7 562.9 289.4 563.6 289.4C564.1 289.4 564.5 283.3 565.0 281.0C565.5 278.7 565.9 275.0 566.4 275.0C566.8 275.0 567.2 278.6 567.6 282.0C568.1 286.0 568.5 298.3 569.0 305.0C569.5 311.7 569.9 319.3 570.4 323.0C570.9 327.2 571.5 331.2 572.0 332.0C572.5 332.8 573.1 333.4 573.6 333.4C574.3 333.4 574.9 326.3 575.6 325.0C576.4 323.4 577.2 323.7 578.0 322.0C578.7 320.6 579.3 311.0 580.0 311.0C580.5 311.0 581.1 314.1 581.6 317.0C582.3 320.6 582.9 333.5 583.6 337.0C584.3 340.5 584.9 341.1 585.6 344.0C586.3 346.9 586.9 355.6 587.6 355.6C588.1 355.6 588.5 354.9 589.0 354.0C589.5 353.1 589.9 342.9 590.4 341.0C591.1 338.3 591.7 338.4 592.4 336.0C593.1 333.6 593.7 324.0 594.4 324.0C594.9 324.0 595.5 325.0 596.0 326.0C596.7 327.3 597.3 334.4 598.0 334.6C599.0 334.9 600.0 335.0 601.0 335.0C602.0 335.0 603.0 332.6 604.0 332.0C605.0 331.4 606.0 331.4 607.0 330.6C607.9 329.9 608.7 325.6 609.6 321.0C610.3 317.4 610.9 307.2 611.6 303.0C611.9 300.9 612.3 298.0 612.6 298.0C613.1 298.0 613.5 303.0 614.0 307.0C614.7 312.7 615.3 332.1 616.0 335.0C616.8 338.5 617.6 338.9 618.4 341.0C619.3 343.2 620.1 347.3 621.0 348.0C621.7 348.5 622.3 349.0 623.0 349.0C624.0 349.0 625.0 348.2 626.0 347.6C626.7 347.2 627.3 346.8 628.0 346.0C629.0 344.8 630.0 337.5 631.0 336.0C631.7 335.0 632.3 334.0 633.0 334.0C633.9 334.0 634.7 335.4 635.6 336.0C636.5 336.7 637.5 338.0 638.4 338.0C639.3 338.0 640.1 324.8 641.0 324.0C641.7 323.4 642.3 323.0 643.0 323.0C643.5 323.0 643.9 324.0 644.4 324.0C644.9 324.0 645.5 316.4 646.0 311.0C646.5 305.6 647.1 293.1 647.6 290.0C647.9 288.0 648.3 286.0 648.6 286.0C649.1 286.0 649.5 292.8 650.0 297.0C650.7 303.1 651.3 316.3 652.0 319.0C652.7 321.7 653.3 324.0 654.0 324.0C655.0 324.0 656.0 322.6 657.0 322.6C658.0 322.6 659.0 327.4 660.0 328.0C661.0 328.6 662.0 329.0 663.0 329.0C663.7 329.0 664.3 328.0 665.0 328.0C665.9 328.0 666.7 329.0 667.6 329.0C668.7 329.0 669.9 316.0 671.0 314.0C672.0 312.2 673.0 310.6 674.0 310.6C675.0 310.6 676.0 313.9 677.0 316.0C678.0 318.1 679.0 323.6 680.0 324.0C681.0 324.4 682.0 324.6 683.0 324.6C683.7 324.6 684.3 323.2 685.0 321.0C685.5 319.3 686.1 308.4 686.6 301.0C687.1 294.5 687.5 280.9 688.0 279.0C688.3 277.7 688.7 276.6 689.0 276.6C689.5 276.6 690.1 281.6 690.6 285.0C691.4 290.1 692.2 299.7 693.0 305.0C693.7 309.4 694.3 315.2 695.0 316.0C695.7 316.8 696.3 317.4 697.0 317.4C697.8 317.4 698.6 314.1 699.4 311.0C700.1 308.4 700.7 300.3 701.4 298.0C701.8 296.6 702.2 295.0 702.6 295.0C703.1 295.0 703.5 300.1 704.0 303.0C704.7 307.2 705.3 315.0 706.0 317.0C706.3 318.0 706.7 319.0 707.0 319.0C707.5 319.0 708.1 310.8 708.6 305.0C709.3 297.7 709.9 284.2 710.6 275.0C711.1 268.6 711.5 259.2 712.0 257.0C712.3 255.4 712.7 254.0 713.0 254.0C713.5 254.0 714.1 264.0 714.6 264.0C715.1 264.0 715.5 250.1 716.0 245.0C716.5 239.9 716.9 232.0 717.4 232.0C717.9 232.0 718.5 237.7 719.0 243.0C719.5 248.3 720.1 266.4 720.6 271.0C721.3 276.7 721.9 280.4 722.6 282.0C723.3 283.6 723.9 283.4 724.6 285.0C725.3 286.6 725.9 296.4 726.6 299.0C727.1 300.8 727.5 303.0 728.0 303.0C728.7 303.0 729.3 294.6 730.0 294.0C730.7 293.4 731.3 293.7 732.0 293.0C732.5 292.5 732.9 273.4 733.4 265.0C733.9 255.4 734.5 239.0 735.0 239.0C735.5 239.0 736.1 246.6 736.6 255.0C737.1 262.4 737.5 302.0 738.0 305.0C738.5 308.0 738.9 310.0 739.4 310.0C740.1 310.0 740.7 299.3 741.4 293.0C742.3 284.8 743.1 272.6 744.0 265.0C744.5 260.4 745.1 253.0 745.6 253.0C746.1 253.0 746.5 259.8 747.0 265.0C747.7 272.5 748.3 296.1 749.0 299.0C749.7 301.9 750.3 303.1 751.0 304.0C752.0 305.3 753.0 306.6 754.0 306.6C755.1 306.6 756.3 301.0 757.4 301.0C758.5 301.0 759.5 307.0 760.6 307.0C761.7 307.0 762.9 305.1 764.0 301.0C764.5 299.3 764.9 285.7 765.4 275.0C765.7 267.4 766.1 252.9 766.4 246.0C766.7 239.1 767.1 233.3 767.4 230.0C768.3 221.4 769.1 219.8 770.0 213.0C770.7 207.8 771.3 200.9 772.0 194.0C772.5 188.5 773.1 178.4 773.6 176.0C774.1 173.9 774.5 172.0 775.0 172.0C775.5 172.0 775.9 179.6 776.4 180.0C777.3 180.7 778.1 180.3 779.0 181.0C779.3 181.3 779.7 186.7 780.0 192.0C780.3 196.3 780.5 205.9 780.8 214.0C781.2 226.2 781.6 250.4 782.0 256.0C782.3 260.7 782.7 265.0 783.0 265.0C783.5 265.0 783.9 255.5 784.4 248.0C784.8 241.6 785.2 223.3 785.6 220.0C786.1 216.1 786.5 213.0 787.0 213.0C787.5 213.0 788.1 219.1 788.6 224.0C789.2 229.5 789.8 245.6 790.4 249.0C791.1 252.8 791.7 256.0 792.4 256.0C792.9 256.0 793.5 247.6 794.0 240.0C794.4 234.3 794.8 220.6 795.2 212.0C795.5 206.3 795.7 199.0 796.0 196.0C796.7 188.6 797.3 186.0 798.0 182.0C798.5 178.8 799.1 173.6 799.6 173.6C800.3 173.6 800.9 174.0 801.6 174.0C802.1 174.0 802.5 165.2 803.0 162.0C803.5 158.8 803.9 154.0 804.4 154.0C804.9 154.0 805.5 158.1 806.0 162.0C806.7 166.8 807.3 182.4 808.0 190.0C808.3 193.8 808.7 197.7 809.0 200.0C809.7 204.6 810.3 204.6 811.0 210.0C811.5 214.3 812.1 231.4 812.6 240.0C813.1 247.5 813.5 257.4 814.0 260.0C814.3 261.9 814.7 263.6 815.0 263.6C816.0 263.6 817.0 263.0 818.0 261.0C818.3 260.3 818.7 246.6 819.0 240.0C819.5 229.4 820.1 222.5 820.6 210.0C820.9 202.2 821.3 187.7 821.6 180.0C822.3 164.6 822.9 153.9 823.6 144.0C824.1 137.1 824.5 127.3 825.0 126.0C825.3 125.1 825.7 124.4 826.0 124.4C826.5 124.4 827.1 129.4 827.6 134.0C828.3 139.7 828.9 156.0 829.6 166.0C830.3 176.0 830.9 181.5 831.6 194.0C831.9 199.0 832.1 207.1 832.4 214.0C832.9 227.9 833.5 250.7 834.0 258.0C834.5 264.4 834.9 269.7 835.4 271.0C836.1 272.8 836.7 274.0 837.4 274.0C838.3 274.0 839.1 272.8 840.0 272.0C841.0 271.1 842.0 268.6 843.0 268.6C843.7 268.6 844.3 270.5 845.0 272.0C845.5 273.2 846.1 277.4 846.6 277.4C847.1 277.4 847.5 271.1 848.0 266.0C848.7 258.7 849.3 240.5 850.0 230.0C850.5 222.6 850.9 213.4 851.4 210.0C851.8 207.1 852.2 204.0 852.6 204.0C853.1 204.0 853.5 210.1 854.0 216.0C854.5 221.9 854.9 241.3 855.4 250.0C855.9 259.9 856.5 272.2 857.0 274.0C857.5 275.8 858.1 277.0 858.6 277.0C859.3 277.0 859.9 274.9 860.6 273.0C861.3 271.1 861.9 263.6 862.6 263.0C863.3 262.4 863.9 262.7 864.6 262.0C865.1 261.5 865.5 251.6 866.0 246.0C866.5 240.4 866.9 229.9 867.4 228.0C867.8 226.4 868.2 225.0 868.6 225.0C869.1 225.0 869.5 233.9 870.0 238.0C870.5 242.6 871.1 250.3 871.6 251.0C872.1 251.6 872.5 252.0 873.0 252.0C873.5 252.0 874.1 244.7 874.6 244.0C875.1 243.4 875.5 243.0 876.0 243.0C876.5 243.0 876.9 252.7 877.4 256.0C877.9 259.8 878.5 265.0 879.0 265.0C879.5 265.0 880.1 254.2 880.6 246.0C881.1 238.8 881.5 220.2 882.0 216.0C882.3 213.0 882.7 210.0 883.0 210.0C883.9 210.0 884.7 210.0 885.6 210.0C886.4 210.0 887.2 215.0 888.0 215.0C888.5 215.0 888.9 212.3 889.4 210.0C889.9 207.3 890.5 202.0 891.0 196.0C891.3 192.2 891.7 182.3 892.0 181.0C892.7 178.4 893.3 178.9 894.0 177.0C894.7 175.1 895.3 168.5 896.0 167.0C896.7 165.5 897.3 165.4 898.0 164.0C898.8 162.3 899.6 155.6 900.4 155.6C901.1 155.6 901.7 160.0 902.4 162.0C903.3 164.7 904.1 169.6 905.0 169.6C905.7 169.6 906.3 165.4 907.0 162.0C907.7 158.6 908.3 152.6 909.0 146.0C909.7 139.4 910.3 125.5 911.0 120.0C911.7 114.5 912.3 112.1 913.0 108.0C913.5 104.7 914.1 98.0 914.6 98.0C915.1 98.0 915.5 98.8 916.0 100.0C916.3 100.8 916.7 106.1 917.0 108.0C917.5 111.1 918.1 111.2 918.6 115.0C918.9 117.4 919.3 123.7 919.6 130.0C919.9 136.3 920.3 147.3 920.6 156.0C920.9 164.7 921.3 174.1 921.6 182.0C921.9 189.9 922.3 198.9 922.6 204.0C923.3 214.2 923.9 218.3 924.6 226.0C925.3 233.7 925.9 247.0 926.6 250.0C927.1 252.1 927.5 253.2 928.0 254.0C928.7 255.2 929.3 255.5 930.0 256.4C930.7 257.3 931.3 259.2 932.0 259.6C932.9 260.1 933.7 260.4 934.6 260.4C935.2 260.4 935.8 260.1 936.4 259.6C936.9 259.1 937.5 244.8 938.0 240.0C938.5 235.8 938.9 230.0 939.4 230.0C939.9 230.0 940.5 232.5 941.0 233.0C941.5 233.5 942.1 234.0 942.6 234.0C943.3 234.0 943.9 227.6 944.6 226.0C945.2 224.6 945.8 223.0 946.4 223.0C946.9 223.0 947.5 233.4 948.0 238.0C948.7 243.8 949.3 251.9 950.0 254.0C950.7 256.1 951.3 256.7 952.0 258.0C952.7 259.3 953.3 261.5 954.0 262.0C954.7 262.5 955.3 262.4 956.0 263.0C956.5 263.5 957.1 267.0 957.6 267.0C958.1 267.0 958.5 257.6 959.0 252.0C959.5 245.6 960.1 232.3 960.6 230.0C961.1 228.0 961.5 226.4 962.0 226.4C962.5 226.4 962.9 231.0 963.4 231.0C963.9 231.0 964.5 225.4 965.0 224.0C965.5 222.6 966.1 222.4 966.6 221.0C967.3 219.2 967.9 212.1 968.6 211.0C969.3 209.9 969.9 210.1 970.6 209.0C971.2 208.0 971.8 202.0 972.4 202.0C972.7 202.0 973.1 206.2 973.4 210.0C973.8 214.6 974.2 229.7 974.6 236.0C975.1 243.3 975.5 251.5 976.0 253.0C976.3 254.1 976.7 255.0 977.0 255.0C977.7 255.0 978.3 250.4 979.0 250.4C979.8 250.4 980.6 251.0 981.4 251.0C982.3 251.0 983.1 250.0 984.0 250.0C984.7 250.0 985.3 250.5 986.0 251.0C986.7 251.5 987.3 255.0 988.0 255.0C988.9 255.0 989.7 254.8 990.6 254.4C991.1 254.2 991.5 245.9 992.0 244.0C992.5 242.1 992.9 240.0 993.4 240.0C993.9 240.0 994.5 243.0 995.0 243.0C995.7 243.0 996.3 236.0 997.0 236.0C997.5 236.0 998.1 244.4 998.6 248.0C999.2 252.0 999.8 259.0 1000.4 259.0C1000.9 259.0 1001.5 258.1 1002.0 257.0C1002.5 255.9 1003.1 249.5 1003.6 249.0C1004.3 248.4 1004.9 248.6 1005.6 248.0C1006.2 247.4 1006.8 239.0 1007.4 239.0C1007.9 239.0 1008.5 243.4 1009.0 246.0C1009.5 248.6 1010.1 254.7 1010.6 255.0C1011.4 255.4 1012.2 255.2 1013.0 255.6C1013.7 255.9 1014.3 259.6 1015.0 259.6C1015.5 259.6 1016.1 256.3 1016.6 254.0C1017.1 252.0 1017.5 246.5 1018.0 246.0C1018.7 245.4 1019.3 245.6 1020.0 245.0C1020.7 244.4 1021.3 238.4 1022.0 238.0C1022.3 237.8 1022.7 237.6 1023.0 237.6C1023.5 237.6 1024.1 242.3 1024.6 244.0C1025.3 246.1 1025.9 248.5 1026.6 249.0C1027.4 249.6 1028.2 250.0 1029.0 250.0C1029.7 250.0 1030.3 249.0 1031.0 249.0C1031.8 249.0 1032.6 250.4 1033.4 250.4C1033.9 250.4 1034.5 245.4 1035.0 242.0C1035.5 238.6 1036.1 229.0 1036.6 229.0C1037.1 229.0 1037.5 229.0 1038.0 229.0C1038.7 229.0 1039.3 231.0 1040.0 232.0C1040.5 232.7 1040.9 233.0 1041.4 234.0C1041.9 235.1 1042.5 239.3 1043.0 241.0C1043.7 243.1 1044.3 244.1 1045.0 246.0C1045.7 247.9 1046.3 251.1 1047.0 252.4C1047.8 253.9 1048.6 255.3 1049.4 255.6C1050.5 256.1 1051.5 256.0 1052.6 256.4C1053.4 256.7 1054.2 257.4 1055.0 258.0C1056.0 258.8 1057.0 261.0 1058.0 261.0C1058.7 261.0 1059.3 260.6 1060.0 260.0C1060.7 259.4 1061.3 252.0 1062.0 252.0C1062.8 252.0 1063.6 259.0 1064.4 260.0C1065.3 261.1 1066.1 262.0 1067.0 262.0C1068.0 262.0 1069.0 262.0 1070.0 262.0C1071.0 262.0 1072.0 263.4 1073.0 263.4C1074.0 263.4 1075.0 262.0 1076.0 262.0C1076.7 262.0 1077.3 265.3 1078.0 266.0C1078.7 266.7 1079.3 267.4 1080.0 267.4C1081.0 267.4 1082.0 264.0 1083.0 264.0C1084.0 264.0 1085.0 266.6 1086.0 266.6C1087.3 266.6 1088.7 265.4 1090.0 265.4C1091.0 265.4 1092.0 266.9 1093.0 267.4C1094.3 268.1 1095.7 269.0 1097.0 269.0C1098.3 269.0 1099.7 269.0 1101.0 269.0C1102.3 269.0 1103.7 270.3 1105.0 271.0C1106.3 271.7 1107.7 273.0 1109.0 273.0C1109.9 273.0 1110.7 270.7 1111.6 270.4C1112.7 270.0 1113.9 269.6 1115.0 269.6C1116.3 269.6 1117.7 273.0 1119.0 274.0C1120.3 275.0 1121.7 276.4 1123.0 276.4C1123.9 276.4 1124.7 271.6 1125.6 271.0C1126.4 270.4 1127.2 270.0 1128.0 270.0C1129.3 270.0 1130.7 271.0 1132.0 271.6C1133.3 272.2 1134.7 273.4 1136.0 274.0C1137.3 274.6 1138.7 275.1 1140.0 275.6C1141.0 276.0 1142.0 276.6 1143.0 276.6C1144.0 276.6 1145.0 276.4 1146.0 276.4C1147.0 276.4 1148.0 277.5 1149.0 278.0C1150.0 278.5 1151.0 278.7 1152.0 279.4C1152.8 280.0 1153.6 283.0 1154.4 283.0C1155.3 283.0 1156.1 282.4 1157.0 282.4C1157.7 282.4 1158.3 286.4 1159.0 286.4C1159.9 286.4 1160.7 283.4 1161.6 283.4C1162.7 283.4 1163.9 283.8 1165.0 284.6C1165.7 285.1 1166.3 292.5 1167.0 295.0C1167.7 297.5 1168.3 301.0 1169.0 301.0C1169.7 301.0 1170.3 300.1 1171.0 299.0C1171.7 297.9 1172.3 291.6 1173.0 290.0C1173.7 288.4 1174.3 286.6 1175.0 286.6C1176.0 286.6 1177.0 288.7 1178.0 289.4C1179.3 290.3 1180.7 291.4 1182.0 291.6C1183.7 291.8 1185.3 291.8 1187.0 292.0C1188.3 292.2 1189.7 294.6 1191.0 294.6C1192.0 294.6 1193.0 293.0 1194.0 293.0C1195.3 293.0 1196.7 294.6 1198.0 295.0C1199.3 295.4 1200.7 295.6 1202.0 296.0C1203.3 296.4 1204.7 297.1 1206.0 297.4C1207.2 297.7 1208.4 298.0 1209.6 298.0C1210.5 298.0 1211.5 295.0 1212.4 295.0C1213.6 295.0 1214.8 296.7 1216.0 297.0C1217.2 297.3 1218.4 297.6 1219.6 297.6C1220.1 297.6 1220.5 293.9 1221.0 293.0C1221.5 292.1 1221.9 291.0 1222.4 291.0C1222.9 291.0 1223.5 293.7 1224.0 295.0C1224.5 296.3 1225.1 298.6 1225.6 298.6C1227.1 298.6 1228.5 298.6 1230.0 298.6C1232.0 298.6 1234.0 299.1 1236.0 299.4C1237.7 299.6 1239.3 299.6 1241.0 300.0C1242.0 300.2 1243.0 303.5 1244.0 304.0C1244.7 304.3 1245.3 304.6 1246.0 304.6C1246.8 304.6 1247.6 303.4 1248.4 303.4C1249.3 303.4 1250.1 305.0 1251.0 306.0C1252.0 307.2 1253.0 310.6 1254.0 310.6C1255.0 310.6 1256.0 309.0 1257.0 309.0C1258.0 309.0 1259.0 311.0 1260.0 312.0C1261.0 313.0 1262.0 313.9 1263.0 315.0C1264.0 316.1 1265.0 318.0 1266.0 319.0C1267.3 320.3 1268.7 321.2 1270.0 322.0C1271.3 322.8 1272.7 323.5 1274.0 324.0C1275.3 324.5 1276.7 325.0 1278.0 325.4C1279.3 325.8 1280.7 326.1 1282.0 326.6C1283.0 327.0 1284.0 328.0 1285.0 328.0C1286.3 328.0 1287.7 327.0 1289.0 327.0C1290.0 327.0 1291.0 328.5 1292.0 329.4C1293.0 330.3 1294.0 331.8 1295.0 332.4C1296.7 333.4 1298.3 333.4 1300.0 334.4C1301.0 335.0 1302.0 336.7 1303.0 338.0C1304.0 339.3 1305.0 340.6 1306.0 342.0C1306.7 342.9 1307.3 344.0 1308.0 345.0C1308.7 346.0 1309.3 348.0 1310.0 348.0C1311.0 348.0 1312.0 347.4 1313.0 347.4C1313.7 347.4 1314.3 349.0 1315.0 350.0C1315.7 351.0 1316.3 353.4 1317.0 353.4C1318.0 353.4 1319.0 353.4 1320.0 353.4C1321.0 353.4 1322.0 353.4 1323.0 353.4C1324.0 353.4 1325.0 354.3 1326.0 355.0C1326.7 355.5 1327.3 356.0 1328.0 357.0C1328.7 358.0 1329.3 361.0 1330.0 363.0C1330.7 365.0 1331.3 367.8 1332.0 369.0C1332.5 369.9 1333.1 371.0 1333.6 371.0C1334.1 371.0 1334.5 368.7 1335.0 367.0C1335.5 365.1 1336.1 359.3 1336.6 359.0C1337.1 358.8 1337.5 358.6 1338.0 358.6C1338.7 358.6 1339.3 362.6 1340.0 364.0C1340.7 365.4 1341.3 366.7 1342.0 367.4C1343.0 368.4 1344.0 369.4 1345.0 369.4C1346.0 369.4 1347.0 368.7 1348.0 368.0C1348.9 367.4 1349.7 364.0 1350.6 364.0C1351.5 364.0 1352.5 364.8 1353.4 365.0C1354.3 365.2 1355.1 365.4 1356.0 365.4C1357.0 365.4 1358.0 363.4 1359.0 363.4C1359.5 363.4 1360.1 366.1 1360.6 368.0C1361.2 370.1 1361.8 376.0 1362.4 376.0C1362.9 376.0 1363.5 371.3 1364.0 370.0C1364.5 368.7 1365.1 367.0 1365.6 367.0C1366.2 367.0 1366.8 367.4 1367.4 367.4C1368.1 367.4 1368.9 365.6 1369.6 365.6C1370.2 365.6 1370.8 366.9 1371.4 368.0C1371.9 369.0 1372.5 371.6 1373.0 373.0C1373.5 374.2 1373.9 376.0 1374.4 376.0C1374.9 376.0 1375.5 372.2 1376.0 371.0C1376.5 369.8 1377.1 368.0 1377.6 368.0C1378.2 368.0 1378.8 369.2 1379.4 370.0C1380.1 370.8 1380.7 373.0 1381.4 373.0C1382.3 373.0 1383.1 370.0 1384.0 370.0C1384.7 370.0 1385.3 373.3 1386.0 375.0C1386.7 376.7 1387.3 378.1 1388.0 380.0C1388.7 381.9 1389.3 386.6 1390.0 386.6C1390.5 386.6 1391.1 385.3 1391.6 384.0C1392.1 382.8 1392.5 377.9 1393.0 377.0C1393.5 375.9 1394.1 375.0 1394.6 375.0C1395.4 375.0 1396.2 375.8 1397.0 376.0C1397.8 376.2 1398.6 376.2 1399.4 376.4C1400.3 376.6 1401.1 378.2 1402.0 379.0C1402.8 379.7 1403.6 380.2 1404.4 381.0C1405.3 381.9 1406.1 383.6 1407.0 384.4C1408.0 385.3 1409.0 386.4 1410.0 386.4C1411.2 386.4 1412.4 386.0 1413.6 386.0C1414.3 386.0 1414.9 386.6 1415.6 387.0C1416.4 387.5 1417.2 389.0 1418.0 389.0C1419.0 389.0 1420.0 386.0 1421.0 386.0C1421.7 386.0 1422.3 387.5 1423.0 388.0C1423.7 388.5 1424.3 389.4 1425.0 389.4C1425.9 389.4 1426.7 385.4 1427.6 385.4C1428.4 385.4 1429.2 386.0 1430.0 386.0C1430.5 386.0 1431.1 386.0 1431.6 386.0"/>
</g>
<rect x="63.5" y="80.5" width="1433.1" height="386.9" fill="none" stroke="#000" stroke-width="1.1"/>
<path d="M124.4 467.4 v5.1 M336.3 467.4 v5.1 M555.4 467.4 v5.1 M774.5 467.4 v5.1 M997.2 467.4 v5.1 M1216.3 467.4 v5.1 M1435.4 467.4 v5.1 M63.5 421.0 h-4.9 M63.5 372.5 h-4.9 M63.5 323.9 h-4.9 M63.5 275.4 h-4.9 M63.5 226.9 h-4.9 M63.5 178.4 h-4.9 M63.5 129.8 h-4.9 M63.5 81.3 h-4.9" stroke="#000" stroke-width="1.1" fill="none"/>
<g class="tx" font-size="20.6" fill="#000">
<text transform="translate(83.90,491.80) scale(1.0500,1)" x="-0.60 11.19 22.85 34.52 46.05 53.09 64.76" y="0">2003-01</text>
<text transform="translate(295.82,491.80) scale(1.0500,1)" x="-0.60 11.19 22.85 34.52 46.05 53.09 64.76" y="0">2003-03</text>
<text transform="translate(514.92,491.80) scale(1.0500,1)" x="-0.60 11.19 22.85 34.52 46.05 53.09 64.76" y="0">2003-05</text>
<text transform="translate(734.02,491.80) scale(1.0500,1)" x="-0.60 11.19 22.85 34.52 46.05 53.09 64.76" y="0">2003-07</text>
<text transform="translate(956.71,491.80) scale(1.0500,1)" x="-0.60 11.19 22.85 34.52 46.05 53.09 64.76" y="0">2003-09</text>
<text transform="translate(1175.81,491.80) scale(1.0500,1)" x="-0.60 11.19 22.85 34.52 46.05 53.09 64.88" y="0">2003-11</text>
<text transform="translate(1394.91,491.80) scale(1.0500,1)" x="-0.60 11.19 22.85 34.52 46.05 53.09 64.76" y="0">2004-01</text>
<text transform="translate(41.42,428.80) scale(1.0400,1)" x="0.12" y="0">2</text>
<text transform="translate(41.42,380.27) scale(1.0400,1)" x="0.12" y="0">4</text>
<text transform="translate(41.42,331.74) scale(1.0400,1)" x="0.12" y="0">6</text>
<text transform="translate(41.42,283.22) scale(1.0400,1)" x="0.12" y="0">8</text>
<text transform="translate(29.18,234.69) scale(1.0400,1)" x="0.12 12.02" y="0">10</text>
<text transform="translate(29.05,186.16) scale(1.0400,1)" x="0.12 12.02" y="0">12</text>
<text transform="translate(29.05,137.63) scale(1.0400,1)" x="0.12 12.02" y="0">14</text>
<text transform="translate(29.05,89.10) scale(1.0400,1)" x="0.12 12.02" y="0">16</text>
<g transform="translate(18.4,405.6) rotate(-90)">
<text transform="translate(0.00,0.00) scale(1.0450,1)" x="-0.96 11.84 23.30" y="0">Sea</text>
<text transform="translate(0.00,0.00) scale(1.0450,1)" x="40.83 55.95 68.13 74.64 86.52" y="0">water</text>
<text transform="translate(0.00,0.00) scale(1.0450,1)" x="100.67 107.17 119.14 136.90 148.56 160.44 167.80 179.97 186.65 198.60 205.62" y="0">temperature</text>
<text transform="translate(0.00,0.00) scale(1.0450,1)" x="223.85 229.32 244.07" y="0">[C]</text>
</g>
</g>
<g class="tx" font-size="23.3" fill="#000">
<text transform="translate(62.60,21.60) scale(1.0450,1)" x="0.26 13.54 26.59 39.63 51.51 63.42 76.70 89.43 99.72 111.38 123.11 135.01 146.68 159.96 172.92 183.21 195.14 208.66 222.17 235.81 249.33 262.84 276.36 289.94" y="0">noaa_nos_co_ops_9457292:</text>
<text transform="translate(62.60,21.60) scale(1.0450,1)" x="303.86 317.47 323.12 335.84 347.59" y="0">bias:</text>
<text transform="translate(62.60,21.60) scale(1.0450,1)" x="361.20 369.30 382.80 389.64" y="0">-0.9</text>
<text transform="translate(62.60,21.60) scale(1.0450,1)" x="416.53 428.25 441.76 450.25 458.60" y="0">corr:</text>
<text transform="translate(62.60,21.60) scale(1.0450,1)" x="472.53 486.03 492.87" y="0">0.9</text>
<text transform="translate(62.60,21.60) scale(1.0450,1)" x="520.10 525.74 538.79 552.14" y="0">ioa:</text>
<text transform="translate(62.60,21.60) scale(1.0450,1)" x="566.05 579.34 592.60" y="0">nan</text>
<text transform="translate(62.60,21.60) scale(1.0450,1)" x="620.15 639.91 651.38 664.70" y="0">mse:</text>
<text transform="translate(62.60,21.60) scale(1.0450,1)" x="678.63 692.01 698.85" y="0">3.4</text>
<text transform="translate(62.60,21.60) scale(1.0450,1)" x="725.43 736.56 748.31" y="0">ss:</text>
<text transform="translate(62.60,21.60) scale(1.0450,1)" x="762.25 775.74 782.58" y="0">0.7</text>
<text transform="translate(62.60,21.60) scale(1.0450,1)" x="809.94 818.60 838.35 849.82 863.14" y="0">rmse:</text>
<text transform="translate(62.60,21.60) scale(1.0450,1)" x="877.08 890.45 897.29" y="0">1.8</text>
<text transform="translate(62.60,21.60) scale(1.0450,1)" x="924.43 938.04 943.37 955.72 963.50" y="0">dist:</text>
<text transform="translate(62.60,21.60) scale(1.0450,1)" x="977.44 990.95 1004.33 1011.17" y="0">16.3</text>
<text transform="translate(62.60,48.30) scale(1.0450,1)" x="0.28 13.80 27.44 41.07 54.26 62.37 76.00 89.19 97.29 110.93" y="0">2003-01-01</text>
<text transform="translate(62.60,48.30) scale(1.0450,1)" x="131.25 144.56 157.81 171.99 179.69 193.29" y="0">depth:</text>
<text transform="translate(62.60,48.30) scale(1.0450,1)" x="207.22 220.72 227.56" y="0">0.0</text>
<text transform="translate(62.60,48.30) scale(1.0450,1)" x="248.09 253.73 267.01 280.61" y="0">lon:</text>
<text transform="translate(62.60,48.30) scale(1.0450,1)" x="294.22 302.32 315.83 329.47 342.85 349.69 363.32" y="0">-152.51</text>
<text transform="translate(62.60,48.30) scale(1.0450,1)" x="383.74 389.39 403.32 411.11" y="0">lat:</text>
<text transform="translate(62.60,48.30) scale(1.0450,1)" x="425.05 438.68 452.06 458.90 472.41" y="0">57.73</text>
<text transform="translate(62.60,74.90) scale(1.0450,1)" x="-1.02 13.78 27.30 41.48 49.29 55.17 68.46 81.82" y="0">Subtidal</text>
<text transform="translate(62.60,74.90) scale(1.0450,1)" x="93.97 105.44 118.46" y="0">sea</text>
<text transform="translate(62.60,74.90) scale(1.0450,1)" x="139.21 146.71 160.34 180.65 193.96 207.43 215.83 229.76 237.46 251.21 259.15 272.27" y="0">temperature,</text>
<text transform="translate(62.60,74.90) scale(1.0450,1)" x="286.34 293.67 301.58 315.25" y="0">from</text>
<text transform="translate(62.60,74.90) scale(1.0450,1)" x="342.80 350.01 356.09 367.65 380.89" y="0">fixed</text>
<text transform="translate(62.60,74.90) scale(1.0450,1)" x="400.67 413.01 420.49 434.43 442.23 447.87 461.14" y="0">station</text>
</g>
<rect x="1398.5" y="87.4" width="91.2" height="46.1" rx="2.8" ry="2.8" fill="#fff" fill-opacity="0.8" stroke="#ccc" stroke-opacity="0.8" stroke-width="1.39"/>
<path d="M1403.5 99.4 H1431.4" stroke="#000" stroke-width="3" stroke-linecap="square"/>
<path d="M1403.5 120.4 H1431.4" stroke="#f00" stroke-width="3" stroke-linecap="square"/>
<g class="tx" font-size="14.6" fill="#000">
<text transform="translate(1443.00,104.00) scale(1.0400,1)" x="0.08 8.09 16.64 21.06" y="0">data</text>
<text transform="translate(1443.00,125.00) scale(0.9300,1)" x="-0.11 10.38 14.47 25.50 33.60" y="0">CIOFS</text>
</g>
</svg>
</body></html>
